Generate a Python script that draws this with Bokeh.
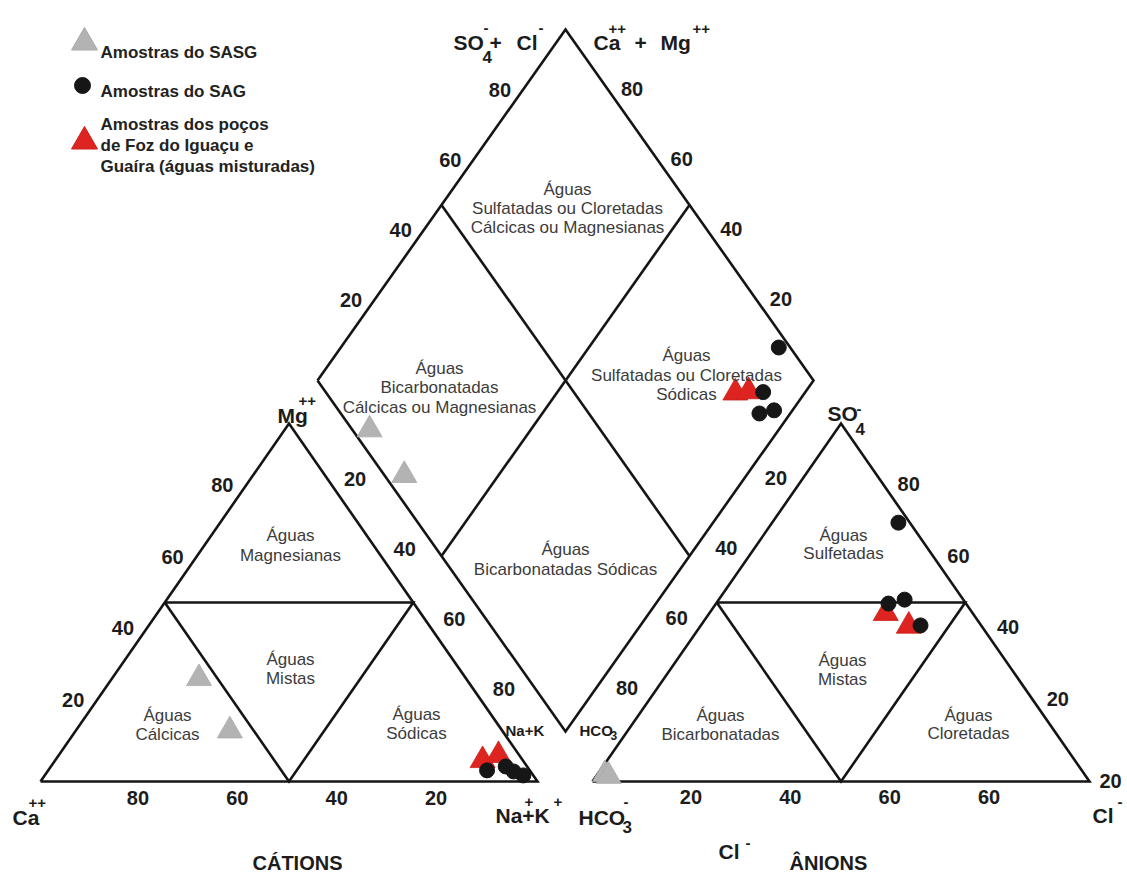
from bokeh.plotting import figure
from bokeh.models import Range1d, ColumnDataSource
from bokeh.embed import file_html
from bokeh.resources import INLINE
from bokeh.core.properties import value

# ---------------- data (percent of meq) ----------------
# SASG samples (grey triangles)
sasg_ca = [53.7, 54.8]
sasg_mg = [28.8, 14.2]
sasg_nak = [17.5, 31.0]
sasg_hco3 = [96.5, 96.0]
sasg_so4 = [2.0, 1.5]
sasg_cl = [1.5, 2.5]

# SAG samples (black dots)
sag_ca = [8.6, 4.3, 2.0, 3.4]
sag_mg = [3.1, 4.2, 1.7, 2.8]
sag_nak = [88.3, 91.5, 96.3, 93.8]
sag_hco3 = [2.3, 11.8, 12.2, 15.6]
sag_so4 = [72.3, 50.8, 43.6, 49.7]
sag_cl = [25.4, 37.4, 44.2, 34.7]

# Foz do Iguacu / Guaira wells (red triangles)
foz_ca = [8.1, 4.2]
foz_mg = [5.9, 7.3]
foz_nak = [86.0, 88.5]
foz_hco3 = [17.5, 14.5]
foz_so4 = [47.0, 43.0]
foz_cl = [35.5, 41.5]

tick_values = [20, 40, 60, 80]
cl_tick_text = ["20", "40", "60", "60"]
ca_tick_text = ["80", "60", "40", "20"]

# ---------------- geometry (screen pixels) ----------------
W, H = 497.0, 358.0
XL, XR, YB = 40.0, 592.0, 781.0
DX, DCY, DHW, DHH = 317.0, 380.0, 248.0, 351.0


def cat_xy(ca, mg, nak):
    t = ca + mg + nak
    m, n = mg / t, nak / t
    return XL + W * (n + m / 2), YB - H * m


def an_xy(hco3, so4, cl):
    t = hco3 + so4 + cl
    s, c = so4 / t, cl / t
    return XR + W * (c + s / 2), YB - H * s


def dia_xy(n, s):
    return DX + DHW * (s + n), DCY + DHH * (n - s)


def group_points(ca, mg, nak, hco3, so4, cl):
    xs, ys = [], []
    for a, b, c, d, e, f in zip(ca, mg, nak, hco3, so4, cl):
        for fx in (cat_xy(a, b, c), an_xy(d, e, f)):
            xs.append(fx[0]); ys.append(fx[1])
        tc = a + b + c
        ta = d + e + f
        x, y = dia_xy(c / tc, (e + f) / ta)
        xs.append(x); ys.append(y)
    return xs, ys


p = figure(width=1127, height=873, output_backend="svg", toolbar_location=None,
           x_range=Range1d(0, 1127), y_range=Range1d(873, 0),
           x_axis_type=None, y_axis_type=None, min_border=0)
p.grid.visible = False
p.outline_line_color = None
p.background_fill_color = "white"

# ---------------- outlines ----------------
xs, ys = [], []
for X0 in (XL, XR):
    xs.append([X0, X0 + W, X0 + W / 2, X0])
    ys.append([YB, YB, YB - H, YB])
    xs.append([X0 + W / 4, X0 + 3 * W / 4, X0 + W / 2, X0 + W / 4])
    ys.append([YB - H / 2, YB - H / 2, YB, YB - H / 2])
Lp = dia_xy(0, 0); Tp = dia_xy(0, 1); Rp = dia_xy(1, 1); Bp = dia_xy(1, 0)
xs.append([Lp[0], Tp[0], Rp[0], Bp[0], Lp[0]])
ys.append([Lp[1], Tp[1], Rp[1], Bp[1], Lp[1]])
for a, b in ((dia_xy(0, 0.5), dia_xy(1, 0.5)), (dia_xy(0.5, 1), dia_xy(0.5, 0))):
    xs.append([a[0], b[0]]); ys.append([a[1], b[1]])
p.multi_line(xs, ys, line_color="#151515", line_width=2.6, line_join="miter")

# ---------------- samples ----------------
gx, gy = group_points(sasg_ca, sasg_mg, sasg_nak, sasg_hco3, sasg_so4, sasg_cl)
p.scatter(gx, gy, marker="triangle", size=25, fill_color="#b3b3b3", line_color="#a8a8a8", line_width=0.8)
rx, ry = group_points(foz_ca, foz_mg, foz_nak, foz_hco3, foz_so4, foz_cl)
p.scatter(rx, ry, marker="triangle", size=25, fill_color="#dd2420", line_color="#cc1f1b", line_width=0.8)
bx, by = group_points(sag_ca, sag_mg, sag_nak, sag_hco3, sag_so4, sag_cl)
p.scatter(bx, by, marker="circle", size=15, fill_color="#161616", line_color="#161616")

FONT = value("Liberation Sans")


def txt(x, y, t, size, bold=True, color="#1c1c1c", align="left", baseline="alphabetic"):
    src = ColumnDataSource(dict(x=list(x), y=list(y), t=list(t)))
    p.text("x", "y", "t", source=src, text_font=FONT, text_font_size=f"{size}px",
           text_font_style="bold" if bold else "normal", text_color=color,
           text_align=align, text_baseline=baseline)


# ---------------- tick labels ----------------
def edge_labels(fn, vals, labels, dx, dy):
    X, Y = [], []
    for v in vals:
        x, y = fn(v)
        X.append(x + dx); Y.append(y + dy)
    txt(X, Y, labels, 20, align="center", baseline="middle")


tv = [str(v) for v in tick_values]
edge_labels(lambda v: (XL + W * (1 - v / 100), YB), [80, 60, 40, 20], ca_tick_text, -2, 16)
edge_labels(lambda v: cat_xy(100 - v, v, 0), tick_values, tv, -17, -10)
edge_labels(lambda v: dia_xy(v / 100, 0), tick_values, tv, -12, 28)
edge_labels(lambda v: dia_xy(0, v / 100), tick_values, tv, -16, -10)
edge_labels(lambda v: dia_xy(1 - v / 100, 1), tick_values, tv, 17, -11)
edge_labels(lambda v: dia_xy(1, 1 - v / 100), tick_values, tv, 12, 27)
edge_labels(lambda v: an_xy(0, v, 100 - v), tick_values, tv, 18, -11)
edge_labels(lambda v: an_xy(100 - v, 0, v), tick_values, cl_tick_text, -1, 15)
txt([1110], [780], ["20"], 20, align="center")

# ---------------- corner labels ----------------
txt([453, 489, 516, 593, 634, 660, 277, 827, 12, 495, 578, 718, 1092],
    [42, 42, 42, 42, 42, 42, 415, 413, 817, 815, 817, 851, 815],
    ["SO", "+", "Cl", "Ca", "+", "Mg", "Mg", "SO", "Ca", "Na+K", "HCO", "Cl", "Cl"], 21)
# superscripts
txt([483, 538, 608, 692, 298, 856, 28, 524, 553, 623, 745, 1117],
    [27, 27, 28, 28, 400, 408, 802, 801, 801, 801, 842, 801],
    ["-", "-", "++", "++", "++", "-", "++", "+", "+", "-", "-", "-"], 15)
# subscripts
txt([482, 855, 622], [56, 428, 826], ["4", "4", "3"], 17)
# small edge labels
txt([505, 579], [730, 730], ["Na+K", "HCO"], 15)
txt([610], [735], ["3"], 12)
# titles
txt([297, 828], [862, 862], ["CÁTIONS", "ÂNIONS"], 20, align="center")

# ---------------- region labels ----------------
regions = [
    (567, [189, 208, 227], ["Águas", "Sulfatadas ou Cloretadas", "Cálcicas ou Magnesianas"]),
    (439, [368, 387, 407], ["Águas", "Bicarbonatadas", "Cálcicas ou Magnesianas"]),
    (686, [355, 375, 394], ["Águas", "Sulfatadas ou Cloretadas", "Sódicas"]),
    (565, [549, 569], ["Águas", "Bicarbonatadas Sódicas"]),
    (290, [535, 555], ["Águas", "Magnesianas"]),
    (290, [659, 678], ["Águas", "Mistas"]),
    (167, [715, 734], ["Águas", "Cálcicas"]),
    (416, [714, 733], ["Águas", "Sódicas"]),
    (843, [535, 553], ["Águas", "Sulfetadas"]),
    (842, [660, 679], ["Águas", "Mistas"]),
    (720, [715, 734], ["Águas", "Bicarbonatadas"]),
    (968, [715, 733], ["Águas", "Cloretadas"]),
]
RX, RY, RT = [], [], []
for cx, yy, lines in regions:
    for y, t in zip(yy, lines):
        RX.append(cx); RY.append(y); RT.append(t)
txt(RX, RY, RT, 17, bold=False, color="#3c3c3c", align="center")

# ---------------- legend ----------------
p.scatter([84], [42], marker="triangle", size=26, fill_color="#b3b3b3", line_color="#a8a8a8")
p.scatter([82], [85], marker="circle", size=16, fill_color="#161616", line_color="#161616")
p.scatter([84], [141], marker="triangle", size=26, fill_color="#dd2420", line_color="#cc1f1b")
txt([100, 100, 100, 100, 100], [52, 91, 124, 145, 166],
    ["Amostras do SASG", "Amostras do SAG", "Amostras dos poços",
     "de Foz do Iguaçu e", "Guaíra (águas misturadas)"], 17, color="#222222")

open("out.html", "w").write(file_html(p, INLINE))
